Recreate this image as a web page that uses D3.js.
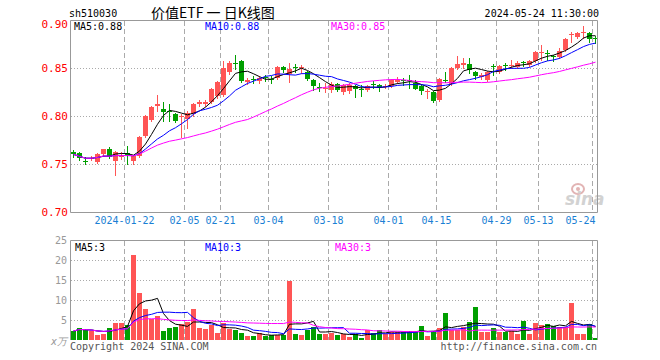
<!DOCTYPE html>
<html>
<head>
<meta charset="utf-8">
<script src="https://cdn.jsdelivr.net/npm/d3@7"></script>
<style>
body { margin: 0; background: #fff; }
text { font-family: "DejaVu Sans Mono", monospace; }
</style>
</head>
<body>
<div id="kline"></div>
<script>
//Trading days shown on the chart
var dates = ["2024-01-09","2024-01-10","2024-01-11","2024-01-12","2024-01-15","2024-01-16","2024-01-17","2024-01-18","2024-01-19",
	"2024-01-22","2024-01-23","2024-01-24","2024-01-25","2024-01-26","2024-01-29","2024-01-30","2024-01-31","2024-02-01","2024-02-02",
	"2024-02-05","2024-02-06","2024-02-07","2024-02-08","2024-02-19","2024-02-20","2024-02-21","2024-02-22","2024-02-23","2024-02-26",
	"2024-02-27","2024-02-28","2024-02-29","2024-03-01","2024-03-04","2024-03-05","2024-03-06","2024-03-07","2024-03-08","2024-03-11",
	"2024-03-12","2024-03-13","2024-03-14","2024-03-15","2024-03-18","2024-03-19","2024-03-20","2024-03-21","2024-03-22","2024-03-25",
	"2024-03-26","2024-03-27","2024-03-28","2024-03-29","2024-04-01","2024-04-02","2024-04-03","2024-04-08","2024-04-09","2024-04-10",
	"2024-04-11","2024-04-12","2024-04-15","2024-04-16","2024-04-17","2024-04-18","2024-04-19","2024-04-22","2024-04-23","2024-04-24",
	"2024-04-25","2024-04-26","2024-04-29","2024-04-30","2024-05-06","2024-05-07","2024-05-08","2024-05-09","2024-05-10","2024-05-13",
	"2024-05-14","2024-05-15","2024-05-16","2024-05-17","2024-05-20","2024-05-21","2024-05-22","2024-05-23","2024-05-24"];

//Daily prices
var opens = [.763,.761,.753,.755,.752,.760,.766,.753,.757,.761,.753,.758,.779,.796,.810,.807,.805,.802,.799,.797,
	.802,.812,.813,.815,.821,.822,.846,.855,.857,.835,.839,.836,.841,.839,.840,.851,.844,.851,.850,.846,
	.838,.830,.828,.827,.833,.825,.826,.831,.828,.827,.833,.832,.830,.831,.835,.837,.837,.834,.831,.825,
	.825,.817,.838,.833,.850,.853,.854,.846,.841,.837,.852,.846,.853,.852,.851,.856,.853,.857,.866,.866,
	.862,.861,.869,.884,.882,.886,.886,.881];
var highs = [.765,.763,.757,.758,.761,.766,.768,.764,.762,.769,.759,.779,.801,.810,.822,.815,.812,.803,.802,.805,
	.814,.817,.817,.829,.836,.857,.857,.864,.858,.840,.842,.842,.843,.842,.852,.852,.855,.854,.853,.847,
	.839,.834,.834,.835,.834,.833,.834,.832,.832,.832,.836,.833,.833,.839,.841,.840,.843,.838,.833,.828,
	.826,.840,.846,.851,.863,.860,.860,.847,.845,.847,.854,.853,.855,.858,.857,.857,.858,.868,.874,.869,
	.864,.871,.881,.887,.887,.894,.887,.883];
var lows = [.757,.754,.750,.754,.751,.759,.756,.739,.755,.750,.750,.757,.778,.795,.805,.795,.795,.794,.778,.787,
	.800,.810,.810,.814,.819,.821,.844,.849,.835,.833,.834,.834,.836,.834,.839,.846,.835,.846,.845,.838,
	.827,.826,.825,.825,.826,.823,.824,.820,.821,.826,.829,.826,.829,.830,.834,.832,.829,.828,.823,.819,
	.815,.816,.835,.832,.849,.850,.845,.839,.839,.836,.843,.845,.848,.850,.850,.852,.852,.856,.858,.858,
	.857,.860,.868,.877,.881,.881,.877,.876];
var closes = [.760,.756,.752,.756,.760,.766,.757,.763,.759,.759,.758,.778,.800,.809,.812,.804,.804,.795,.800,.803,
	.813,.815,.815,.828,.835,.850,.855,.854,.836,.838,.837,.840,.840,.837,.851,.848,.849,.850,.851,.839,
	.831,.829,.829,.833,.827,.832,.832,.828,.827,.831,.832,.830,.831,.838,.838,.836,.836,.828,.826,.826,
	.816,.839,.837,.850,.854,.855,.848,.842,.843,.846,.851,.852,.852,.853,.855,.855,.857,.867,.867,.865,
	.861,.868,.880,.885,.886,.887,.880,.880];
//Daily volume (x10k)
var volumes = [2.25,3.0,2.5,2.25,1.3,1.6,3.0,4.25,4.25,3.75,21.25,11.8,7.75,5.25,6.0,2.25,3.0,3.25,4.0,4.5,
	7.75,3.0,2.75,3.75,1.8,4.25,2.75,2.5,1.8,1.0,1.0,1.75,1.0,1.25,1.3,1.3,14.8,1.5,1.25,2.5,
	3.25,1.5,1.5,1.8,1.3,1.5,0.8,1.5,0.6,2.5,1.75,2.5,1.5,2.0,2.0,2.0,2.25,2.0,3.5,1.0,
	2.25,3.0,6.75,2.5,2.5,3.25,4.5,8.25,2.0,2.0,3.0,2.0,2.0,2.25,1.5,4.75,1.5,4.25,3.75,4.0,
	3.5,3.25,3.25,9.25,1.5,1.5,4.0,0.5];

var priceTicks = [0.90, 0.85, 0.80, 0.75, 0.70];
var volTicks = [25, 20, 15, 10, 5];
var labelDates = ["2024-01-22","2024-02-05","2024-02-21","2024-03-04","2024-03-18","2024-04-01","2024-04-15","2024-04-29","2024-05-13","2024-05-24"];
//Legend texts as printed on the chart
var priceLegend = ["MA5:0.88", "MA10:0.88", "MA30:0.85"];
var volLegend = ["MA5:3", "MA10:3", "MA30:3"];

var upColor = "#ff5555", downColor = "#009f00", gridColor = "#aaa";
var maColors = ["#000", "#0000ff", "#ff00ff"];
var maDays = [5, 10, 30];

var svg = d3.select("#kline").append("svg")
	.attr("width", 660)
	.attr("height", 360);

//Both panels share the same x scale
var x = d3.scaleBand().domain(dates).range([70.5, 598.5]);
function cx(d) { return Math.floor(x(d) + x.bandwidth() / 2) + 0.5; }

var y = d3.scaleLinear().domain([0.70, 0.90]).range([212, 20]);
var yv = d3.scaleLinear().domain([0, 25]).range([340, 240]);

//Moving average over what is on the chart
function movingAvg(arr, n)
{
	return arr.map(function(v, i){
		return d3.mean(arr.slice(Math.max(0, i - n + 1), i + 1));
	});
}

//Header texts
svg.append("text").attr("x", 69).attr("y", 13).attr("dy", "0.35em")
	.style("font-size", "10px").text("sh510030");
svg.append("text").attr("x", 151).attr("y", 13).attr("dy", "0.35em")
	.style("font-family", "'Noto Sans CJK SC'").style("font-size", "14px")
	.text("价值ETF 一 日K线图");
svg.append("text").attr("x", 599).attr("y", 13).attr("dy", "0.35em")
	.attr("text-anchor", "end").style("font-size", "10px").text("2024-05-24 11:30:00");

//Grid of the price panel
svg.append("g").selectAll("line").data(priceTicks.slice(1, 4)).enter().append("line")
	.attr("x1", 71).attr("x2", 598)
	.attr("y1", function(d){ return Math.round(y(d)) + 0.5; })
	.attr("y2", function(d){ return Math.round(y(d)) + 0.5; })
	.attr("stroke", gridColor).attr("stroke-dasharray", "1,2");

svg.append("g").selectAll("line").data(volTicks.slice(1)).enter().append("line")
	.attr("x1", 71).attr("x2", 598)
	.attr("y1", function(d){ return Math.round(yv(d)) + 0.5; })
	.attr("y2", function(d){ return Math.round(yv(d)) + 0.5; })
	.attr("stroke", gridColor).attr("stroke-dasharray", "1,2");

//Vertical dashed lines for each labelled date
var vlines = svg.append("g");
labelDates.forEach(function(d){
	var xx = Math.floor(x(d)) + 0.5;
	vlines.append("line").attr("x1", xx).attr("x2", xx).attr("y1", 21).attr("y2", 212)
		.attr("stroke", gridColor).attr("stroke-dasharray", "5,3");
	vlines.append("line").attr("x1", xx).attr("x2", xx).attr("y1", 241).attr("y2", 340)
		.attr("stroke", gridColor).attr("stroke-dasharray", "5,3");
});

//Sina watermark
var wm = svg.append("g");
wm.append("ellipse").attr("cx", 578).attr("cy", 189).attr("rx", 6).attr("ry", 5)
	.attr("fill", "none").attr("stroke", "#e2b4b4").attr("stroke-width", 2);
wm.append("circle").attr("cx", 578).attr("cy", 189).attr("r", 2).attr("fill", "#e2b4b4");
wm.append("text").attr("x", 565).attr("y", 205)
	.style("font-family", "'DejaVu Sans'").style("font-size", "17px")
	.style("font-weight", "bold").style("font-style", "italic")
	.attr("fill", "#d2d2d2").text("sina");

//Candles
var candles = svg.append("g");
dates.forEach(function(d, i){
	var col = closes[i] >= opens[i] ? upColor : downColor;
	candles.append("line")
		.attr("x1", cx(d)).attr("x2", cx(d))
		.attr("y1", Math.round(y(highs[i]))).attr("y2", Math.round(y(lows[i])) + 1)
		.attr("stroke", col);
	var top = Math.round(y(Math.max(opens[i], closes[i])));
	var bot = Math.round(y(Math.min(opens[i], closes[i])));
	candles.append("rect")
		.attr("x", cx(d) - 2.5).attr("width", 5)
		.attr("y", top).attr("height", Math.max(1, bot - top))
		.attr("fill", col);
});

//Price moving averages
maDays.forEach(function(n, k){
	svg.append("path")
		.datum(movingAvg(closes, n))
		.attr("fill", "none")
		.attr("stroke", maColors[k])
		.attr("stroke-width", 1)
		.attr("d", d3.line().x(function(v, i){ return cx(dates[i]); }).y(function(v){ return y(v); }));
});

//Volume bars
svg.append("g").selectAll("rect").data(volumes).enter().append("rect")
	.attr("x", function(v, i){ return cx(dates[i]) - 2.5; })
	.attr("width", 5)
	.attr("y", function(v){ return Math.round(yv(v)); })
	.attr("height", function(v){ return 340 - Math.round(yv(v)); })
	.attr("fill", function(v, i){ return closes[i] >= opens[i] ? upColor : downColor; });

maDays.forEach(function(n, k){
	svg.append("path")
		.datum(movingAvg(volumes, n))
		.attr("fill", "none")
		.attr("stroke", maColors[k])
		.attr("stroke-width", 1)
		.attr("d", d3.line().x(function(v, i){ return cx(dates[i]); }).y(function(v){ return yv(v); }));
});

//Panel borders
svg.append("path")
	.attr("d", "M70.5,212.5V20.5H597.5V212.5H70.5")
	.attr("fill", "none").attr("stroke", "#999");
svg.append("path")
	.attr("d", "M70.5,340V240.5H597.5V340")
	.attr("fill", "none").attr("stroke", "#999");

//Price axis labels
var yAxis = svg.append("g")
	.attr("transform", "translate(68,0)")
	.call(d3.axisLeft(y).tickValues(priceTicks).tickSize(0).tickPadding(0).tickFormat(d3.format(".2f")));
yAxis.select(".domain").remove();
yAxis.selectAll("text")
	.attr("fill", "#ff0000")
	.style("font-size", "11px")
	.attr("dy", function(d){ return d === 0.90 ? "0.7em" : "0.32em"; });

//Volume axis labels
var vAxis = svg.append("g")
	.attr("transform", "translate(67,0)")
	.call(d3.axisLeft(yv).tickValues(volTicks).tickSize(0).tickPadding(0));
vAxis.select(".domain").remove();
vAxis.selectAll("text").attr("fill", "#999").style("font-size", "10px");
svg.append("text").attr("x", 67).attr("y", 342).attr("dy", "0.3em")
	.attr("text-anchor", "end").attr("fill", "#999").style("font-size", "10px")
	.style("font-style", "italic").text("x万");

//Date labels, the last one kept inside the panel
var xAxis = svg.append("g")
	.attr("transform", "translate(0,214)")
	.call(d3.axisBottom(x).tickValues(labelDates).tickSize(0).tickPadding(3)
		.tickFormat(function(d, i){ return i === 0 ? d : d.slice(5); }));
xAxis.select(".domain").remove();
xAxis.selectAll("text")
	.attr("x", function(d, i){ return i === labelDates.length - 1 ? 0 : -3; })
	.attr("text-anchor", function(d, i){ return i === labelDates.length - 1 ? "end" : "middle"; })
	.attr("fill", "#1a7fd4")
	.style("font-size", "10px");

//MA legends
var legendX = [74, 205, 331];
var volLegendX = [75, 205, 335];
svg.append("g").selectAll("text").data(priceLegend).enter().append("text")
	.attr("x", function(d, i){ return legendX[i]; })
	.attr("y", 26).attr("dy", "0.35em")
	.attr("fill", function(d, i){ return maColors[i]; })
	.style("font-size", "10px")
	.text(function(d){ return d; });
svg.append("g").selectAll("text").data(volLegend).enter().append("text")
	.attr("x", function(d, i){ return volLegendX[i]; })
	.attr("y", 247).attr("dy", "0.35em")
	.attr("fill", function(d, i){ return maColors[i]; })
	.style("font-size", "10px")
	.text(function(d){ return d; });

//Footer
svg.append("text").attr("x", 70).attr("y", 346).attr("dy", "0.35em")
	.attr("fill", "#555").style("font-size", "10px").text("Copyright 2024 SINA.COM");
svg.append("text").attr("x", 597).attr("y", 346).attr("dy", "0.35em")
	.attr("text-anchor", "end").attr("fill", "#555").style("font-size", "10px").text("http://finance.sina.com.cn");
</script>
</body>
</html>
